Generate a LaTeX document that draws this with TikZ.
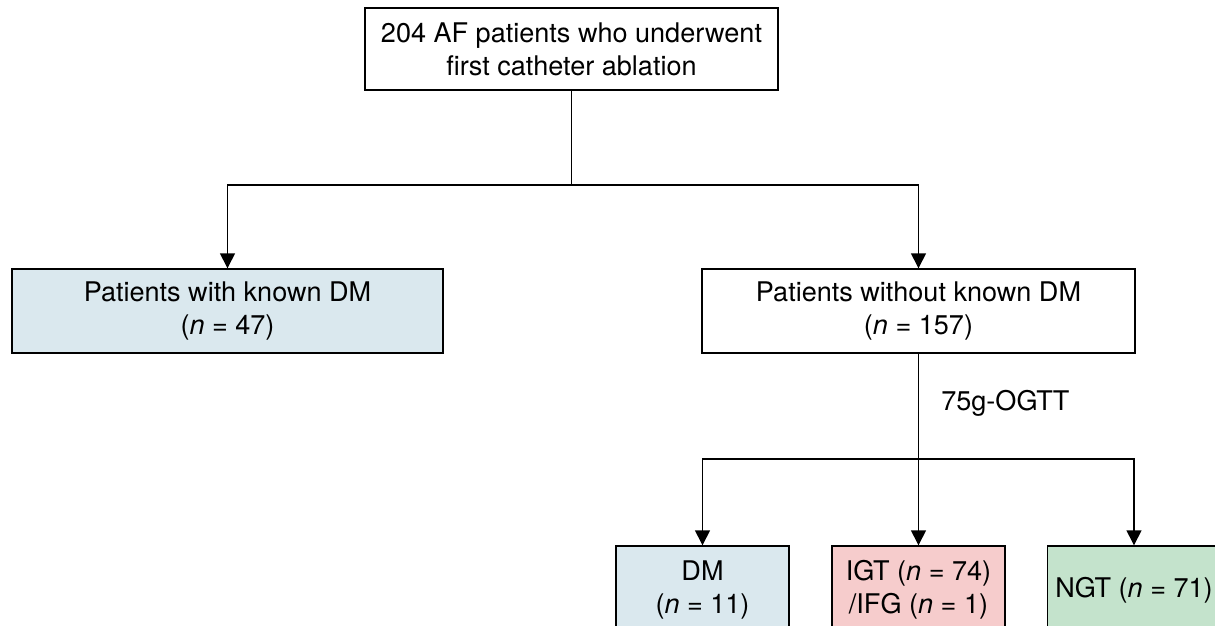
\documentclass[tikz,border=0pt]{standalone}
\usepackage{fontspec}
\setmainfont{TeX Gyre Heros}
\usetikzlibrary{arrows.meta}

\definecolor{boxblue}{RGB}{218,232,238}
\definecolor{boxpink}{RGB}{246,204,204}
\definecolor{boxgreen}{RGB}{196,227,204}

\tikzset{
	flowbox/.style={draw, line width=0.8pt, align=center, inner sep=0pt,
		font=\fontsize{15.4}{18.8}\selectfont},
	flowline/.style={line width=0.8pt},
	flowarrow/.style={flowline, -{Triangle[length=0.3cm, width=0.3cm]}},
}

\begin{document}
\begin{tikzpicture}[x=0.02cm, y=-0.02cm]

% frame %{{{2

	\useasboundingbox (0,0) rectangle (1215,626);
	\clip (0,0) rectangle (1215,626);

% parameters %{{{2

	\def\splitA{185}
	\def\splitB{459}

% boxes %{{{2

	\node[flowbox, minimum width=413*0.02cm, minimum height=82*0.02cm]
		(all) at (571.5,49) {204 AF patients who underwent\\first catheter ablation};

	\node[flowbox, fill=boxblue, minimum width=431*0.02cm, minimum height=84*0.02cm]
		(known) at (227.5,311) {Patients with known DM\\(\textit{n} = 47)};

	\node[flowbox, minimum width=433*0.02cm, minimum height=84*0.02cm]
		(unknown) at (918.5,311) {Patients without known DM\\(\textit{n} = 157)};

	\node[flowbox, fill=boxblue, minimum width=173*0.02cm, minimum height=88*0.02cm]
		(dm) at (702.5,590) {DM\\(\textit{n} = 11)};

	\node[flowbox, fill=boxpink, minimum width=173*0.02cm, minimum height=88*0.02cm]
		(igt) at (918.5,590) {IGT (\textit{n} = 74)\\/IFG (\textit{n} = 1)};

	\node[flowbox, fill=boxgreen, minimum width=173*0.02cm, minimum height=88*0.02cm]
		(ngt) at (1134,590) {NGT (\textit{n} = 71)};

% split points %{{{2

	\coordinate (fork1) at (571.5,\splitA);
	\coordinate (fork2) at (918.5,\splitB);

% connectors %{{{2

	\draw[flowline] (all) -- (fork1);
	\draw[flowarrow] (fork1) -| (known);
	\draw[flowarrow] (fork1) -| (unknown);

	\draw[flowline] (unknown) -- (fork2);
	\draw[flowarrow] (fork2) -| (dm);
	\draw[flowarrow] (fork2) -- (igt);
	\draw[flowarrow] (fork2) -| (ngt);

% labels %{{{2

	\node[anchor=west, inner sep=0pt, font=\fontsize{15.4}{18.8}\selectfont]
		(ogtt) at (941,403) {75g-OGTT};

% closing %{{{2

\end{tikzpicture}
\end{document}
